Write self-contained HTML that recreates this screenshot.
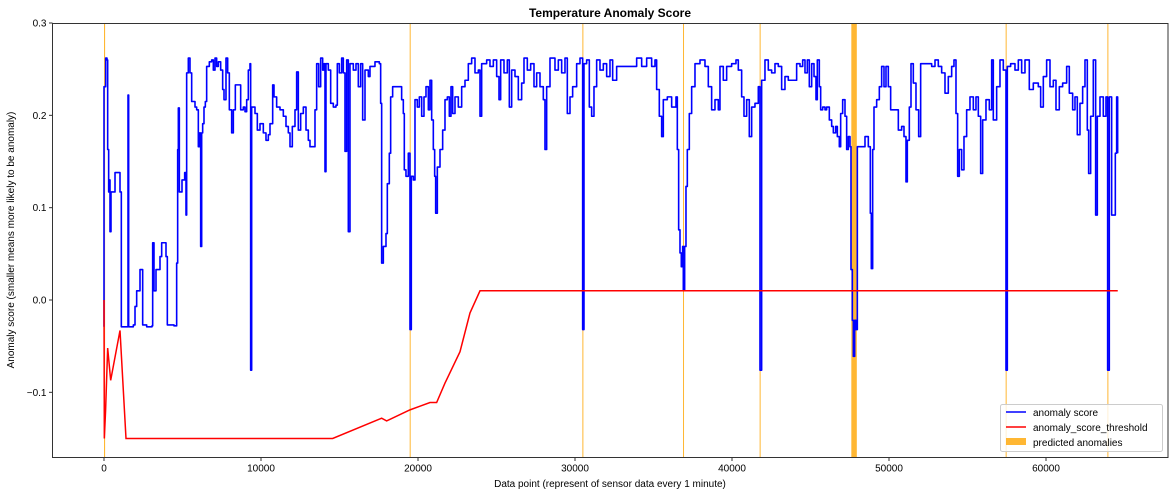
<!DOCTYPE html>
<html><head><meta charset="utf-8"><style>
html,body{margin:0;padding:0;background:#fff;}
svg text{font-family:"Liberation Sans",sans-serif;fill:#000;}
</style></head><body>
<svg id="chart" width="1175" height="496" viewBox="0 0 1175 496" xmlns="http://www.w3.org/2000/svg">
<rect x="0" y="0" width="1175" height="496" fill="#fff"/>
<text x="610" y="17" text-anchor="middle" font-size="12" font-weight="bold">Temperature Anomaly Score</text>
<g id="spans"></g>
<g id="lines"></g>
<rect x="52.5" y="23.5" width="1115.5" height="434" fill="none" stroke="#333" stroke-width="1"/>
<g id="ticks"></g>
<text x="610" y="487" text-anchor="middle" font-size="10">Data point (represent of sensor data every 1 minute)</text>
<text transform="translate(14,240) rotate(-90)" text-anchor="middle" font-size="10">Anomaly score (smaller means more likely to be anomaly)</text>
<g>
<rect x="1000.5" y="404.5" width="162" height="47" rx="2" fill="#fff" fill-opacity="0.8" stroke="#ccc"/>
<line x1="1006" y1="412" x2="1026" y2="412" stroke="#0000ff" stroke-width="1.5"/>
<text x="1033" y="416" font-size="10">anomaly score</text>
<line x1="1006" y1="427" x2="1026" y2="427" stroke="#ff0000" stroke-width="1.5"/>
<text x="1033" y="431" font-size="10">anomaly_score_threshold</text>
<rect x="1006" y="438" width="20" height="7" fill="#ffa500" fill-opacity="0.8"/>
<text x="1033" y="446" font-size="10">predicted anomalies</text>
</g>
</svg>
<script>
const xTicks = [0,10000,20000,30000,40000,50000,60000];
const yTicks = [0.3,0.2,0.1,0.0,-0.1];
const yTickLabels = ["0.3","0.2","0.1","0.0","\u22120.1"];
const anomalyStart = [0,19470,30470,36880,41760,47600,57430,63910];
const anomalyEnd   = [70,19500,30500,36910,41790,47950,57460,63940];
const thrX = [0,21,100,234,425,1019,1401,14565,17685,18003,19489,20127,20764,21188,21719,22675,23312,23949,64570];
const thrY = [0,-0.15,-0.12,-0.052,-0.087,-0.033,-0.15,-0.15,-0.128,-0.131,-0.119,-0.115,-0.111,-0.111,-0.090,-0.056,-0.014,0.010,0.010];
const scoreX = [0,0,106,191,234,297,340,382,446,510,595,701,913,1019,1104,1444,1508,1529,1571,1869,1975,2081,2251,2293,2378,2463,2718,3057,3100,3185,3312,3461,3567,3673,3885,3949,4034,4459,4628,4692,4735,4798,4883,4968,5138,5223,5265,5371,5478,5584,5796,5902,6008,6072,6157,6221,6284,6369,6454,6539,6709,6858,6964,7070,7176,7282,7431,7558,7643,7770,7877,7983,8131,8238,8365,8577,8705,8874,8981,9087,9193,9299,9341,9405,9617,9766,9936,10148,10318,10467,10573,10743,10828,10997,11210,11422,11592,11740,11847,11995,12165,12271,12377,12526,12696,12866,13014,13120,13333,13439,13545,13672,13800,13927,14012,14076,14139,14288,14437,14607,14776,14861,14989,15137,15243,15350,15456,15562,15668,15880,16050,16199,16347,16475,16624,16836,16942,17260,17537,17621,17685,17791,17961,18046,18173,18258,18385,18852,18958,19065,19128,19234,19383,19489,19574,19702,19808,19957,20084,20233,20381,20509,20658,20764,
20870,20976,21061,21125,21231,21401,21571,21719,21868,21995,22101,22208,22356,22569,22781,22993,23205,23418,23630,23842,23949,24055,24373,24585,24798,25010,25159,25265,25477,25689,25817,25965,26178,26390,26602,26751,26963,27175,27388,27558,27770,27982,28088,28195,28407,28725,28938,29150,29362,29511,29681,29850,30105,30318,30487,30572,30742,30912,31060,31209,31379,31591,31804,32016,32228,32398,32653,32971,33290,33608,33927,34245,34564,34882,35094,35200,35370,35519,35625,35880,36156,36432,36517,36602,36687,36771,36856,36899,36984,37069,37154,37281,37430,37642,37960,38279,38491,38703,38916,39128,39234,39446,39659,39977,40253,40402,40614,40763,40933,41102,41251,41463,41676,41782,41888,42100,42312,42525,42737,42949,43162,43374,43586,43905,44117,
44331,44501,44649,44798,44925,45074,45223,45350,45435,45562,45647,45775,45923,46029,46199,46348,46454,46603,46709,46836,46921,47048,47197,47303,47409,47516,47579,47664,47728,47813,47898,47983,48259,48471,48683,48811,48874,48959,49044,49214,49384,49532,49681,49808,49957,50105,50382,50594,50806,50955,51082,51167,51294,51401,51549,51719,51889,52016,52398,52717,52929,53141,53354,53566,53778,53991,54139,54267,54373,54479,54628,54776,54946,55158,55371,55540,55689,55838,55965,56177,56390,56538,56644,56857,57069,57281,57451,57536,57748,58024,58237,58449,58661,58937,59192,59510,59659,59829,60041,60254,60466,60636,60848,61060,61315,61485,61697,61846,61994,62164,62334,62483,62631,62716,62844,63013,63162,63268,63438,63650,63820,63926,64032,64181,64330,64415,64500,64564];
const scoreY = [-0.029,0.231,0.262,0.260,0.163,0.117,0.130,0.074,0.117,0.117,0.117,0.138,0.138,0.117,-0.029,-0.029,-0.029,0.222,-0.029,-0.027,-0.007,0.010,0.010,0.033,0.033,-0.027,-0.029,-0.028,0.062,0.010,0.033,0.033,0.047,0.062,0.062,0.047,-0.027,-0.028,0.040,0.163,0.208,0.117,0.117,0.130,0.138,0.092,0.246,0.262,0.246,0.215,0.209,0.206,0.166,0.181,0.058,0.181,0.191,0.209,0.215,0.253,0.258,0.260,0.249,0.262,0.253,0.258,0.249,0.228,0.217,0.262,0.246,0.206,0.181,0.206,0.233,0.233,0.206,0.209,0.204,0.217,0.249,0.256,-0.076,0.209,0.202,0.184,0.191,0.181,0.173,0.179,0.191,0.233,0.220,0.209,0.206,0.199,0.188,0.181,0.166,0.188,0.206,0.247,0.184,0.202,0.209,0.184,0.173,0.166,0.166,0.206,0.256,0.231,0.262,0.249,0.256,0.139,0.256,0.249,0.213,0.209,0.211,0.256,0.246,0.262,0.246,0.161,0.260,0.074,0.256,0.249,0.256,0.231,0.256,0.195,0.249,0.242,0.253,0.258,0.256,0.213,0.040,0.058,0.072,0.126,0.159,0.220,0.231,0.231,0.217,0.202,0.141,0.134,0.159,-0.032,0.134,0.130,0.217,0.209,0.220,0.199,0.220,0.231,0.206,0.238,
0.195,0.163,0.134,0.094,0.144,0.163,0.184,0.217,0.220,0.199,0.231,0.202,0.220,0.209,0.231,0.238,0.256,0.262,0.246,0.249,0.199,0.256,0.260,0.253,0.260,0.242,0.217,0.260,0.246,0.260,0.209,0.249,0.242,0.217,0.235,0.262,0.249,0.256,0.231,0.246,0.231,0.217,0.163,0.231,0.262,0.249,0.260,0.246,0.262,0.202,0.220,0.231,0.256,0.262,-0.032,0.256,0.260,0.209,0.199,0.231,0.260,0.249,0.256,0.242,0.260,0.238,0.253,0.253,0.253,0.253,0.262,0.253,0.262,0.253,0.260,0.228,0.199,0.177,0.217,0.220,0.209,0.220,0.163,0.076,0.051,0.036,0.058,0.011,0.058,0.123,0.163,0.202,0.231,0.256,0.260,0.253,0.231,0.206,0.217,0.206,0.253,0.238,0.253,0.256,0.260,0.249,0.220,0.199,0.217,0.177,0.209,0.213,0.231,-0.076,0.238,0.260,0.249,0.246,0.256,0.253,0.228,0.242,0.238,0.238,0.256,
0.253,0.260,0.246,0.260,0.231,0.256,0.242,0.217,0.260,0.231,0.206,0.209,0.206,0.209,0.195,0.188,0.181,0.188,0.177,0.166,0.202,0.217,0.199,0.163,0.177,0.166,0.033,-0.022,-0.061,-0.022,-0.032,0.166,0.166,0.177,0.166,0.094,0.034,0.163,0.209,0.217,0.231,0.253,0.231,0.253,0.231,0.206,0.206,0.184,0.188,0.177,0.128,0.173,0.209,0.256,0.235,0.206,0.177,0.256,0.256,0.253,0.260,0.253,0.246,0.224,0.242,0.253,0.260,0.202,0.134,0.163,0.141,0.177,0.206,0.220,0.206,0.220,0.199,0.137,0.195,0.217,0.206,0.260,0.195,0.231,0.260,0.249,-0.076,0.253,0.256,0.249,0.260,0.246,0.260,0.228,0.235,0.231,0.209,0.242,0.260,0.231,0.238,0.206,0.231,0.235,0.253,0.224,0.206,0.220,0.179,0.213,0.231,0.260,0.184,0.137,0.199,0.260,0.092,0.199,0.220,0.199,0.220,-0.076,0.220,0.092,0.092,0.159,0.220,0.159];

const NS = "http://www.w3.org/2000/svg";
const X0 = 52.5, X1 = 1168, Y0 = 23.5, Y1 = 457.5;
function xs(v){ return 104 + v * 0.01570; }
function ys(v){ return 300 - v * 923.3; }

const spans = document.getElementById('spans');
for (let i = 0; i < anomalyStart.length; i++) {
  const r = document.createElementNS(NS, 'rect');
  
  
  const a = xs(anomalyStart[i]), b = xs(anomalyEnd[i]);
  r.setAttribute('x', a);
  r.setAttribute('y', Y0);
  r.setAttribute('width', Math.max(1, b - a));
  r.setAttribute('height', Y1 - Y0);
  r.setAttribute('fill', '#ffa500');
  r.setAttribute('fill-opacity', '0.8');
  spans.appendChild(r);
}

const lines = document.getElementById('lines');
function pathFor(X, Y){
  let d = '';
  for (let i = 0; i < X.length; i++) d += (i ? 'L' : 'M') + xs(X[i]).toFixed(2) + ',' + ys(Y[i]).toFixed(2);
  return d;
}
function stepPathFor(X, Y){
  let d = 'M' + xs(X[0]).toFixed(2) + ',' + ys(Y[0]).toFixed(2);
  for (let i = 1; i < X.length; i++) {
    d += 'L' + xs(X[i]).toFixed(2) + ',' + ys(Y[i-1]).toFixed(2);
    d += 'L' + xs(X[i]).toFixed(2) + ',' + ys(Y[i]).toFixed(2);
  }
  return d;
}
const p1 = document.createElementNS(NS, 'path');


p1.setAttribute('d', stepPathFor(scoreX, scoreY));
p1.setAttribute('fill', 'none');
p1.setAttribute('stroke', '#0000ff');
p1.setAttribute('stroke-width', '1.6');
p1.setAttribute('stroke-linejoin', 'round');
lines.appendChild(p1);
const p2 = document.createElementNS(NS, 'path');


p2.setAttribute('d', pathFor(thrX, thrY));
p2.setAttribute('fill', 'none');
p2.setAttribute('stroke', '#ff0000');
p2.setAttribute('stroke-width', '1.5');
lines.appendChild(p2);

const ticks = document.getElementById('ticks');
xTicks.forEach(function(v){
  const px = xs(v);
  const l = document.createElementNS(NS, 'line');
  
  
  l.setAttribute('x1', px); l.setAttribute('x2', px);
  l.setAttribute('y1', Y1); l.setAttribute('y2', Y1 + 3.5);
  l.setAttribute('stroke', '#333');
  ticks.appendChild(l);
  const t = document.createElementNS(NS, 'text');
  
  
  t.setAttribute('x', px); t.setAttribute('y', Y1 + 14);
  t.setAttribute('text-anchor', 'middle');
  t.setAttribute('font-size', '10');
  t.textContent = String(v);
  ticks.appendChild(t);
});
yTicks.forEach(function(v, i){
  const py = ys(v);
  const l = document.createElementNS(NS, 'line');
  
  
  l.setAttribute('x1', X0 - 3.5); l.setAttribute('x2', X0);
  l.setAttribute('y1', py); l.setAttribute('y2', py);
  l.setAttribute('stroke', '#333');
  ticks.appendChild(l);
  const t = document.createElementNS(NS, 'text');
  
  
  t.setAttribute('x', X0 - 6); t.setAttribute('y', py + 3.5);
  t.setAttribute('text-anchor', 'end');
  t.setAttribute('font-size', '10');
  t.textContent = yTickLabels[i];
  ticks.appendChild(t);
});
</script>
</body></html>
